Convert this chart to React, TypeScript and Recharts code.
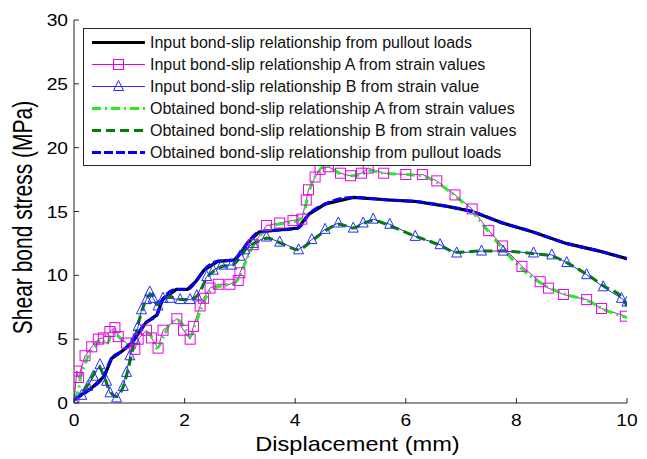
import React from 'react';
import { LineChart, Line, XAxis, YAxis, Legend, Label } from 'recharts';

type P = { x: number; y: number };

const xTicks = [0, 2, 4, 6, 8, 10];
const yTicks = [0, 5, 10, 15, 20, 25, 30];

const xTitle = 'Displacement (mm)';
const yTitle = 'Shear bond stress (MPa)';

const inputPullout: P[] = [
  { x: 0, y: 0.3 }, { x: 0.3, y: 1.1 }, { x: 0.55, y: 2.1 }, { x: 0.68, y: 3.5 }, { x: 0.85, y: 4.0 },
  { x: 1.05, y: 4.7 }, { x: 1.3, y: 6.3 }, { x: 1.5, y: 6.9 }, { x: 1.6, y: 8.1 }, { x: 1.85, y: 8.9 },
  { x: 2.05, y: 8.9 }, { x: 2.2, y: 9.5 }, { x: 2.35, y: 10.4 }, { x: 2.6, y: 11.1 }, { x: 2.9, y: 11.2 },
  { x: 3.0, y: 11.7 }, { x: 3.15, y: 12.6 }, { x: 3.35, y: 13.4 }, { x: 4.05, y: 13.7 }, { x: 4.25, y: 14.8 },
  { x: 4.55, y: 15.6 }, { x: 5.05, y: 16.1 }, { x: 5.7, y: 15.9 }, { x: 6.15, y: 15.8 }, { x: 6.75, y: 15.4 },
  { x: 7.2, y: 15.0 }, { x: 7.75, y: 14.1 }, { x: 8.3, y: 13.4 }, { x: 8.9, y: 12.5 }, { x: 9.5, y: 11.9 },
  { x: 10, y: 11.3 },
];

const obtainedPullout: P[] = [
  { x: 0, y: 0.3 }, { x: 0.3, y: 1.1 }, { x: 0.55, y: 2.2 }, { x: 0.68, y: 3.5 }, { x: 0.85, y: 4.0 },
  { x: 1.05, y: 4.8 }, { x: 1.3, y: 6.3 }, { x: 1.5, y: 6.9 }, { x: 1.6, y: 8.1 }, { x: 1.85, y: 8.9 },
  { x: 2.05, y: 8.9 }, { x: 2.2, y: 9.5 }, { x: 2.35, y: 10.4 }, { x: 2.6, y: 11.1 }, { x: 2.9, y: 11.2 },
  { x: 3.0, y: 11.7 }, { x: 3.15, y: 12.6 }, { x: 3.35, y: 13.4 }, { x: 4.05, y: 13.7 }, { x: 4.25, y: 14.8 },
  { x: 4.55, y: 15.6 }, { x: 5.05, y: 16.1 }, { x: 5.7, y: 15.9 }, { x: 6.15, y: 15.8 }, { x: 6.75, y: 15.4 },
  { x: 7.2, y: 15.0 }, { x: 7.75, y: 14.1 }, { x: 8.3, y: 13.4 }, { x: 8.9, y: 12.5 }, { x: 9.5, y: 11.9 },
  { x: 10, y: 11.3 },
];

const inputA: P[] = [
  { x: 0, y: 0 }, { x: 0.05, y: 2.5 }, { x: 0.08, y: 2.0 }, { x: 0.2, y: 3.7 }, { x: 0.32, y: 4.4 },
  { x: 0.44, y: 5.0 }, { x: 0.53, y: 5.1 }, { x: 0.65, y: 5.6 }, { x: 0.74, y: 5.9 }, { x: 0.8, y: 5.2 },
  { x: 0.95, y: 4.7 }, { x: 1.1, y: 4.2 }, { x: 1.16, y: 5.0 }, { x: 1.31, y: 5.7 }, { x: 1.4, y: 5.1 },
  { x: 1.52, y: 4.3 }, { x: 1.61, y: 5.7 }, { x: 1.86, y: 6.6 }, { x: 1.98, y: 5.7 }, { x: 2.1, y: 5.0 },
  { x: 2.16, y: 6.0 }, { x: 2.28, y: 7.6 }, { x: 2.34, y: 8.2 }, { x: 2.46, y: 9.0 }, { x: 2.61, y: 9.3 },
  { x: 2.82, y: 9.3 }, { x: 2.97, y: 9.6 }, { x: 3.0, y: 10.2 }, { x: 3.24, y: 12.4 }, { x: 3.48, y: 13.9 },
  { x: 3.72, y: 14.1 }, { x: 3.96, y: 14.3 }, { x: 4.12, y: 14.4 }, { x: 4.2, y: 15.9 }, { x: 4.24, y: 16.7 },
  { x: 4.36, y: 17.7 }, { x: 4.45, y: 18.3 }, { x: 4.6, y: 18.5 }, { x: 4.82, y: 18.0 }, { x: 5.0, y: 17.8 },
  { x: 5.2, y: 18.0 }, { x: 5.32, y: 18.4 }, { x: 5.6, y: 18.0 }, { x: 6.0, y: 17.9 }, { x: 6.3, y: 17.9 },
  { x: 6.56, y: 17.4 }, { x: 6.89, y: 16.3 }, { x: 7.2, y: 15.2 }, { x: 7.5, y: 13.5 }, { x: 7.75, y: 12.3 },
  { x: 8.1, y: 10.7 }, { x: 8.43, y: 9.5 }, { x: 8.58, y: 9.0 }, { x: 8.85, y: 8.5 }, { x: 9.27, y: 8.1 },
  { x: 9.54, y: 7.4 }, { x: 9.97, y: 6.8 },
];

const obtainedA: P[] = [
  { x: 0, y: 0.3 }, { x: 0.08, y: 1.0 }, { x: 0.12, y: 2.1 }, { x: 0.2, y: 3.0 }, { x: 0.26, y: 3.8 },
  { x: 0.38, y: 4.4 }, { x: 0.5, y: 5.0 }, { x: 0.59, y: 4.6 }, { x: 0.71, y: 5.6 }, { x: 0.83, y: 5.1 },
  { x: 0.95, y: 4.6 }, { x: 1.05, y: 5.0 }, { x: 1.22, y: 5.6 }, { x: 1.37, y: 5.4 }, { x: 1.5, y: 4.3 },
  { x: 1.62, y: 5.2 }, { x: 1.75, y: 6.3 }, { x: 1.88, y: 6.5 }, { x: 2.0, y: 5.9 }, { x: 2.1, y: 5.2 },
  { x: 2.2, y: 6.2 }, { x: 2.3, y: 7.4 }, { x: 2.4, y: 8.4 }, { x: 2.52, y: 9.0 }, { x: 2.7, y: 9.2 },
  { x: 2.85, y: 9.3 }, { x: 2.97, y: 9.7 }, { x: 3.05, y: 10.5 }, { x: 3.2, y: 12.0 }, { x: 3.4, y: 13.3 },
  { x: 3.6, y: 13.9 }, { x: 3.85, y: 14.1 }, { x: 4.05, y: 14.3 }, { x: 4.15, y: 14.8 }, { x: 4.22, y: 16.0 },
  { x: 4.3, y: 17.2 }, { x: 4.4, y: 18.0 }, { x: 4.55, y: 18.6 }, { x: 4.68, y: 18.3 }, { x: 4.85, y: 17.9 },
  { x: 5.0, y: 17.8 }, { x: 5.2, y: 17.9 }, { x: 5.35, y: 18.2 }, { x: 5.6, y: 18.0 }, { x: 6.0, y: 17.9 },
  { x: 6.3, y: 17.8 }, { x: 6.55, y: 17.3 }, { x: 6.9, y: 16.2 }, { x: 7.2, y: 15.0 }, { x: 7.5, y: 13.4 },
  { x: 7.75, y: 12.1 }, { x: 8.1, y: 10.5 }, { x: 8.4, y: 9.5 }, { x: 8.6, y: 9.0 }, { x: 8.9, y: 8.5 },
  { x: 9.3, y: 8.0 }, { x: 9.55, y: 7.4 }, { x: 10, y: 6.7 },
];

const inputB: P[] = [
  { x: 0, y: 0.2 }, { x: 0.14, y: 0.6 }, { x: 0.25, y: 1.3 }, { x: 0.35, y: 2.1 }, { x: 0.47, y: 3.0 },
  { x: 0.59, y: 1.7 }, { x: 0.65, y: 0.8 }, { x: 0.77, y: 0.4 }, { x: 0.89, y: 1.3 }, { x: 0.95, y: 2.4 },
  { x: 1.01, y: 3.7 }, { x: 1.1, y: 5.0 }, { x: 1.16, y: 6.0 }, { x: 1.22, y: 7.3 }, { x: 1.31, y: 8.1 },
  { x: 1.37, y: 8.7 }, { x: 1.43, y: 8.2 }, { x: 1.52, y: 7.6 }, { x: 1.61, y: 8.2 }, { x: 1.74, y: 8.2 },
  { x: 1.92, y: 8.1 }, { x: 2.1, y: 8.1 }, { x: 2.22, y: 8.4 }, { x: 2.4, y: 9.9 }, { x: 2.52, y: 10.4 },
  { x: 2.67, y: 10.8 }, { x: 2.85, y: 10.8 }, { x: 3.0, y: 11.5 }, { x: 3.09, y: 12.0 }, { x: 3.24, y: 12.5 },
  { x: 3.48, y: 13.0 }, { x: 3.72, y: 12.6 }, { x: 4.06, y: 12.0 }, { x: 4.3, y: 12.8 }, { x: 4.54, y: 13.6 },
  { x: 4.78, y: 14.1 }, { x: 5.05, y: 13.7 }, { x: 5.23, y: 14.1 }, { x: 5.41, y: 14.4 }, { x: 5.71, y: 14.0 },
  { x: 6.17, y: 13.05 }, { x: 6.62, y: 12.4 }, { x: 6.92, y: 11.75 }, { x: 7.37, y: 11.9 }, { x: 7.76, y: 11.9 },
  { x: 8.31, y: 11.75 }, { x: 8.64, y: 11.6 }, { x: 8.91, y: 11.0 }, { x: 9.27, y: 10.05 }, { x: 9.57, y: 9.1 },
  { x: 9.9, y: 8.2 }, { x: 10, y: 7.9 },
];

const obtainedB: P[] = [
  { x: 0, y: 0.2 }, { x: 0.14, y: 0.7 }, { x: 0.25, y: 1.4 }, { x: 0.35, y: 2.2 }, { x: 0.45, y: 2.8 },
  { x: 0.55, y: 2.0 }, { x: 0.65, y: 0.9 }, { x: 0.77, y: 0.5 }, { x: 0.89, y: 1.3 }, { x: 0.97, y: 2.5 },
  { x: 1.05, y: 4.0 }, { x: 1.15, y: 6.0 }, { x: 1.25, y: 7.5 }, { x: 1.33, y: 8.3 }, { x: 1.4, y: 8.5 },
  { x: 1.5, y: 7.7 }, { x: 1.6, y: 8.1 }, { x: 1.75, y: 8.3 }, { x: 1.95, y: 8.1 }, { x: 2.1, y: 8.1 },
  { x: 2.25, y: 8.5 }, { x: 2.4, y: 9.8 }, { x: 2.55, y: 10.4 }, { x: 2.7, y: 10.7 }, { x: 2.87, y: 10.8 },
  { x: 3.0, y: 11.4 }, { x: 3.12, y: 12.1 }, { x: 3.3, y: 12.6 }, { x: 3.5, y: 12.9 }, { x: 3.75, y: 12.5 },
  { x: 4.05, y: 12.0 }, { x: 4.3, y: 12.7 }, { x: 4.55, y: 13.5 }, { x: 4.8, y: 14.0 }, { x: 5.05, y: 13.7 },
  { x: 5.25, y: 14.1 }, { x: 5.42, y: 14.3 }, { x: 5.7, y: 13.9 }, { x: 6.15, y: 13.1 }, { x: 6.6, y: 12.4 },
  { x: 6.92, y: 11.8 }, { x: 7.35, y: 11.9 }, { x: 7.75, y: 11.9 }, { x: 8.3, y: 11.7 }, { x: 8.65, y: 11.5 },
  { x: 8.95, y: 10.9 }, { x: 9.3, y: 10.0 }, { x: 9.6, y: 9.1 }, { x: 9.9, y: 8.3 }, { x: 10, y: 7.6 },
];

const seriesNames = [
  'Input bond-slip relationship from pullout loads',
  'Input bond-slip relationship A from strain values',
  'Input bond-slip relationship B from strain value',
  'Obtained bond-slip relationship A from strain values',
  'Obtained bond-slip relationship B from strain values',
  'Obtained bond-slip relationship from pullout loads',
];

const FONT = '"Liberation Sans", Arial, Helvetica, sans-serif';
const AXIS_COLOR = '#262626';
const MAGENTA = '#E600E6';
const BLUE_THIN = '#2A2AFF';

type Style = { color: string; width: number; dash?: string };
const styles: Style[] = [
  { color: '#000000', width: 3.2 },
  { color: MAGENTA, width: 1 },
  { color: BLUE_THIN, width: 1 },
  { color: '#22EE22', width: 3, dash: '9 4 2 4' },
  { color: '#007F00', width: 3, dash: '9 5' },
  { color: '#0000FF', width: 3, dash: '9 3' },
];

const Square = (props: any) => {
  const { cx, cy, index } = props;
  if (cx == null || cy == null) return <g key={`s${index}`} />;
  return <rect key={`s${index}`} x={cx - 5} y={cy - 5} width={10} height={10} fill="none" stroke={MAGENTA} strokeWidth={1} />;
};

const Triangle = (props: any) => {
  const { cx, cy, index } = props;
  if (cx == null || cy == null) return <g key={`t${index}`} />;
  return (
    <polygon key={`t${index}`} points={`${cx},${cy - 6} ${cx - 5},${cy + 4} ${cx + 5},${cy + 4}`} fill="none" stroke={BLUE_THIN} strokeWidth={1} />
  );
};

const TICK_SCALE = 1.2;

const BottomTick = (props: any) => {
  const { x, y, payload } = props;
  return (
    <g>
      <line x1={x} y1={y} x2={x} y2={y - 5} stroke={AXIS_COLOR} strokeWidth={1} />
      <text x={0} y={0} textAnchor="middle" fontSize={16} fontFamily={FONT} fill="#000"
        transform={`translate(${x} ${y + 23}) scale(${TICK_SCALE} 1)`}>{payload.value}</text>
    </g>
  );
};

const LeftTick = (props: any) => {
  const { x, y, payload } = props;
  return (
    <g>
      <line x1={x} y1={y} x2={x + 5} y2={y} stroke={AXIS_COLOR} strokeWidth={1} />
      <text x={0} y={0} textAnchor="end" fontSize={16} fontFamily={FONT} fill="#000"
        transform={`translate(${x - 6} ${y + 6}) scale(${TICK_SCALE} 1)`}>{payload.value}</text>
    </g>
  );
};

const TopTick = (props: any) => {
  const { x, y } = props;
  return <line x1={x} y1={y} x2={x} y2={y + 5} stroke={AXIS_COLOR} strokeWidth={1} />;
};

const RightTick = (props: any) => {
  const { x, y } = props;
  return <line x1={x} y1={y} x2={x - 5} y2={y} stroke={AXIS_COLOR} strokeWidth={1} />;
};

const XTitle = (props: any) => {
  const vb = props.viewBox;
  const cx = vb.x + vb.width / 2 + 7;
  return (
    <text x={0} y={0} textAnchor="middle" fontSize={20} fontFamily={FONT} fill="#000"
      transform={`translate(${cx} ${vb.y + 48}) scale(1.18 1)`}>{xTitle}</text>
  );
};

const YTitle = (props: any) => {
  const vb = props.viewBox;
  const cy = vb.y + vb.height / 2 + 6;
  return (
    <text x={0} y={0} textAnchor="middle" fontSize={21} fontFamily={FONT} fill="#000"
      transform={`translate(32 ${cy}) scale(1.3 1) rotate(-90)`}>{yTitle}</text>
  );
};

const LegendBox = () => {
  const w = 448;
  const h = 138;
  return (
    <svg width={w} height={h} style={{ display: 'block' }}>
      <rect x={0.5} y={0.5} width={w - 1} height={h - 1} fill="#fff" stroke={AXIS_COLOR} strokeWidth={1} />
      {seriesNames.map((name, i) => {
        const s = styles[i];
        const cy = 14.5 + 22 * i;
        return (
          <g key={name}>
            <line x1={9} y1={cy} x2={62} y2={cy} stroke={s.color} strokeWidth={s.width} strokeDasharray={s.dash} />
            {i === 1 ? (
              <rect x={30.5} y={cy - 5} width={10} height={10} fill="none" stroke={MAGENTA} strokeWidth={1} />
            ) : null}
            {i === 2 ? (
              <polygon points={`${35.5},${cy - 6} ${30.5},${cy + 4} ${40.5},${cy + 4}`} fill="none" stroke={BLUE_THIN} strokeWidth={1} />
            ) : null}
            <text x={67} y={cy + 5.5} fontSize={16} fontFamily={FONT} fill="#111">{name}</text>
          </g>
        );
      })}
    </svg>
  );
};

export default function App() {
  return (
    <div style={{ position: 'absolute', left: 0, top: 0, width: 647, height: 459, background: '#fff' }}>
      <LineChart width={647} height={459} margin={{ top: 20, right: 20, left: 0, bottom: 0 }}>
        <XAxis xAxisId="bottom" type="number" dataKey="x" domain={[0, 10]} ticks={xTicks} height={56}
          tick={<BottomTick />} tickLine={false} tickSize={0} tickMargin={0}
          axisLine={{ stroke: AXIS_COLOR, strokeWidth: 1 }} allowDataOverflow>
          <Label content={<XTitle />} />
        </XAxis>
        <XAxis xAxisId="top" orientation="top" type="number" dataKey="x" domain={[0, 10]} ticks={xTicks} height={0}
          tick={<TopTick />} tickLine={false} tickSize={0} tickMargin={0}
          axisLine={{ stroke: AXIS_COLOR, strokeWidth: 1 }} allowDataOverflow />
        <YAxis yAxisId="left" type="number" domain={[0, 30]} ticks={yTicks} width={74}
          tick={<LeftTick />} tickLine={false} tickSize={0} tickMargin={0}
          axisLine={{ stroke: AXIS_COLOR, strokeWidth: 1 }} allowDataOverflow>
          <Label content={<YTitle />} />
        </YAxis>
        <YAxis yAxisId="right" orientation="right" type="number" domain={[0, 30]} ticks={yTicks} width={0}
          tick={<RightTick />} tickLine={false} tickSize={0} tickMargin={0}
          axisLine={{ stroke: AXIS_COLOR, strokeWidth: 1 }} allowDataOverflow />
        <Legend layout="horizontal" verticalAlign="middle" align="center" content={<LegendBox />}
          wrapperStyle={{ left: 83, top: 28, width: 448, height: 138 }} />
        <Line xAxisId="bottom" yAxisId="left" data={inputPullout} dataKey="y" name={seriesNames[0]} type="linear"
          stroke={styles[0].color} strokeWidth={styles[0].width} dot={false} isAnimationActive={false} />
        <Line xAxisId="bottom" yAxisId="left" data={inputA} dataKey="y" name={seriesNames[1]} type="linear"
          stroke={styles[1].color} strokeWidth={styles[1].width} dot={<Square />} isAnimationActive={false} />
        <Line xAxisId="bottom" yAxisId="left" data={inputB} dataKey="y" name={seriesNames[2]} type="linear"
          stroke={styles[2].color} strokeWidth={styles[2].width} dot={<Triangle />} isAnimationActive={false} />
        <Line xAxisId="bottom" yAxisId="left" data={obtainedA} dataKey="y" name={seriesNames[3]} type="monotone"
          stroke={styles[3].color} strokeWidth={styles[3].width} strokeDasharray={styles[3].dash} dot={false} isAnimationActive={false} />
        <Line xAxisId="bottom" yAxisId="left" data={obtainedB} dataKey="y" name={seriesNames[4]} type="monotone"
          stroke={styles[4].color} strokeWidth={styles[4].width} strokeDasharray={styles[4].dash} dot={false} isAnimationActive={false} />
        <Line xAxisId="bottom" yAxisId="left" data={obtainedPullout} dataKey="y" name={seriesNames[5]} type="monotone"
          stroke={styles[5].color} strokeWidth={styles[5].width} strokeDasharray={styles[5].dash} dot={false} isAnimationActive={false} />
      </LineChart>
    </div>
  );
}
